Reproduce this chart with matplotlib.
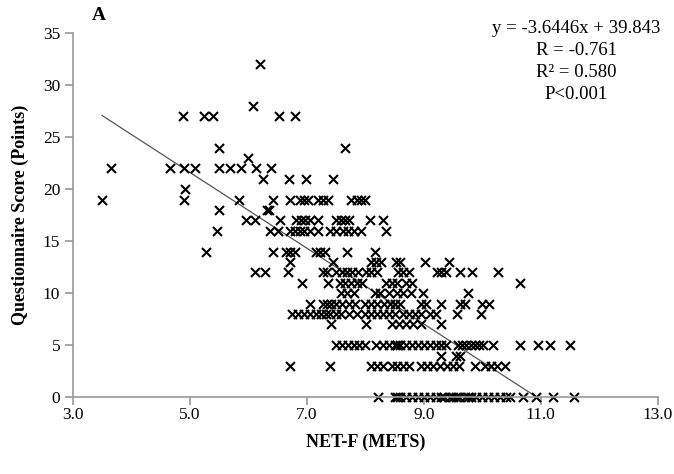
import matplotlib
matplotlib.use("Agg")
import numpy as np
import matplotlib.pyplot as plt

plt.rcParams["font.family"] = ["Liberation Serif", "DejaVu Serif"]

# NET-F (METS) values grouped by questionnaire score (points)
score_rows = {
    32: [6.2],
    28: [6.08],
    27: [4.89, 5.24, 5.40, 6.53, 6.80],
    24: [5.50, 7.65],
    23: [6.0],
    22: [3.66, 4.66, 4.90, 5.09, 5.50, 5.68, 5.88, 6.13, 6.38],
    21: [6.25, 6.70, 6.98, 7.44],
    20: [4.91],
    19: [3.5, 4.90, 5.84, 6.42, 6.71, 6.88, 6.95, 7.02, 7.19, 7.28, 7.36, 7.76, 7.85, 7.93, 8.0],
    18: [5.5, 6.32, 6.36],
    17: [5.96, 6.11, 6.54, 6.82, 6.9, 6.97, 7.05, 7.19, 7.5, 7.58, 7.65, 7.72, 8.08, 8.30],
    16: [5.47, 6.37, 6.5, 6.71, 6.8, 6.88, 6.95, 7.05, 7.19, 7.39, 7.5, 7.62, 7.7, 7.8, 7.93, 8.36],
    14: [5.27, 6.42, 6.65, 6.71, 6.79, 7.16, 7.22, 7.31, 7.68, 8.16],
    13: [6.71, 7.45, 8.1, 8.18, 8.26, 8.53, 8.6, 9.02, 9.43],
    12: [6.12, 6.28, 6.68, 7.27, 7.35, 7.5, 7.6, 7.68, 7.78, 7.88, 8.02, 8.1, 8.2, 8.56,
         8.65, 8.75, 9.22, 9.3, 9.38, 9.62, 9.82, 10.27],
    11: [6.91, 7.36, 7.56, 7.65, 7.75, 7.85, 7.95, 8.36, 8.45, 8.55, 8.7, 8.8, 10.64],
    10: [7.58, 7.68, 7.8, 8.16, 8.25, 8.4, 8.55, 8.65, 8.78, 8.98, 9.76],
    9: [7.05, 7.27, 7.35, 7.42, 7.5, 7.6, 7.72, 7.82, 8.0, 8.1, 8.2, 8.32, 8.42, 8.5, 8.6,
        8.95, 9.03, 9.3, 9.62, 9.7, 10.0, 10.12],
    8: [6.75, 6.85, 6.95, 7.05, 7.16, 7.25, 7.32, 7.4, 7.5, 7.58, 7.72, 7.85, 8.0, 8.1, 8.2,
        8.3, 8.4, 8.5, 8.65, 8.75, 8.85, 8.95, 9.1, 9.2, 9.56, 9.97],
    7: [7.42, 8.02, 8.45, 8.58, 8.7, 8.82, 8.95, 9.3],
    5: [7.5, 7.6, 7.7, 7.8, 7.9, 8.0, 8.18, 8.3, 8.4, 8.5, 8.55, 8.6, 8.7, 8.8, 8.9, 9.0, 9.1,
        9.2, 9.3, 9.38, 9.58, 9.65, 9.72, 9.8, 9.88, 9.95, 10.02, 10.18, 10.64, 10.95, 11.15, 11.5],
    4: [9.3, 9.55, 9.62],
    3: [6.71, 7.39, 8.1, 8.2, 8.3, 8.45, 8.55, 8.65, 8.75, 8.95, 9.05, 9.15, 9.27, 9.4, 9.5,
        9.6, 9.87, 10.05, 10.15, 10.25, 10.38],
    0: [8.22, 8.5, 8.55, 8.6, 8.7, 8.8, 8.9, 9.0, 9.1, 9.2, 9.3, 9.35, 9.45, 9.5, 9.55, 9.6,
        9.7, 9.75, 9.8, 9.9, 10.0, 10.1, 10.2, 10.3, 10.4, 10.48, 10.7, 10.92, 11.2, 11.57],
}

net_f = [x for s, xs in score_rows.items() for x in xs]
score = [s for s, xs in score_rows.items() for x in xs]

# regression line
slope = -3.6446
intercept = 39.843
line_x = np.array([3.5, -intercept / slope])

x_ticks = [3.0, 5.0, 7.0, 9.0, 11.0, 13.0]
y_ticks = [0, 5, 10, 15, 20, 25, 30, 35]

fig = plt.figure(figsize=(6.74, 4.74), dpi=100)
ax = fig.add_axes([0.108, 0.162, 0.868, 0.768])

ax.plot(line_x, slope * line_x + intercept, color="#555555", linewidth=0.9, zorder=1)
ax.scatter(net_f, score, marker="x", s=42, color="black", linewidths=1.5, zorder=2, clip_on=False)

ax.set_xlim(3, 13)
ax.set_ylim(0, 35)
ax.set_xticks(x_ticks)
ax.set_xticklabels([f"{v:.1f}" for v in x_ticks])
ax.set_yticks(y_ticks)

for side in ["top", "right"]:
    ax.spines[side].set_visible(False)
for side in ["left", "bottom"]:
    ax.spines[side].set_color("#999999")
    ax.spines[side].set_linewidth(1.2)
ax.tick_params(axis="both", direction="out", length=6, width=1.2, color="#999999",
               labelsize=12.5, pad=3)
ax.tick_params(axis="x", pad=1)

ax.set_xlabel("NET-F (METS)", fontsize=13, fontweight="bold", labelpad=8)
ax.set_ylabel("Questionnaire Score (Points)", fontsize=13, fontweight="bold", labelpad=10)

fig.text(0.136, 0.967, "A", fontsize=14, fontweight="bold", va="center", ha="left")

stats = ["y = -3.6446x + 39.843", "R = -0.761", "R\u00b2 = 0.580", "P<0.001"]
for i, line in enumerate(stats):
    fig.text(0.855, 0.94 - i * 0.0465, line, fontsize=13.5, ha="center", va="center")

fig.savefig("out.png", dpi=100)
